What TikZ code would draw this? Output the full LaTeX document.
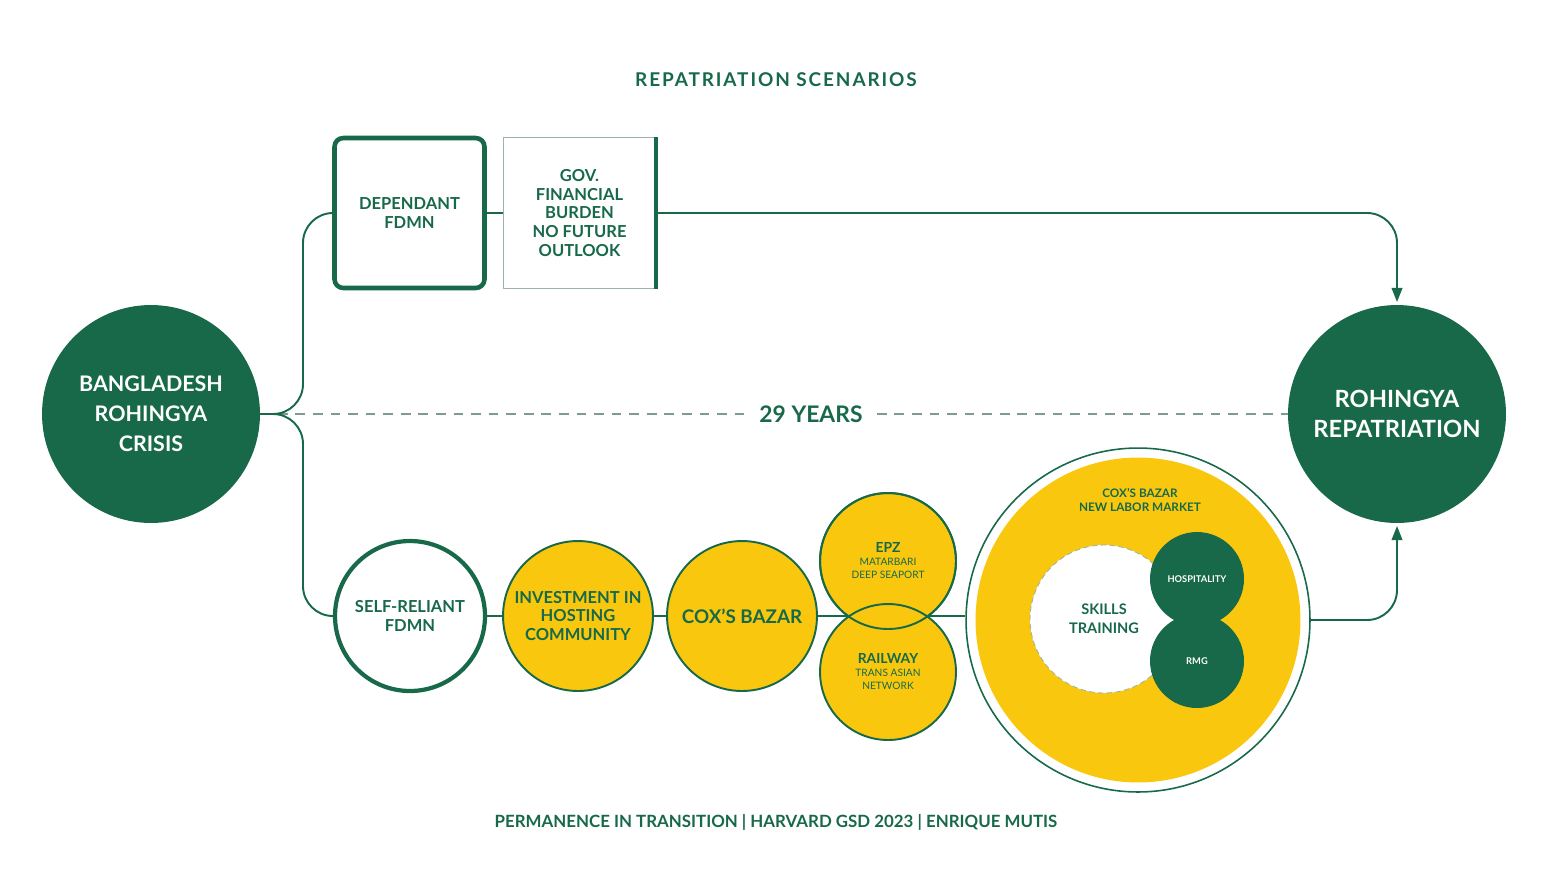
\documentclass[tikz,border=0pt]{standalone}
\usepackage{fontspec}
\setmainfont{Lato}
\newfontfamily\spacedfont[LetterSpace=10]{Lato}
\usepackage{tikz}
\usetikzlibrary{arrows.meta, positioning, backgrounds}
\definecolor{rgreen}{HTML}{17694A}
\definecolor{ryellow}{HTML}{F9C80E}
\definecolor{rthin}{HTML}{9DB3A8}
\definecolor{rdash}{HTML}{7E9C8E}

\begin{document}
\begin{tikzpicture}[x=0.02cm, y=-0.02cm,
    bigdot/.style={circle, fill=rgreen, text=white, minimum size=4.36cm, inner sep=0pt, align=center, font=\bfseries\fontsize{12.2}{17}\selectfont},
    depbox/.style={draw=rgreen, line width=2.6pt, rounded corners=5pt, fill=white, minimum width=3.0cm, minimum height=3.0cm, align=center, text=rgreen, font=\bfseries\fontsize{9.4}{11.3}\selectfont},
    govbox/.style={draw=rthin, line width=0.6pt, fill=white, minimum width=3.04cm, minimum height=3.02cm, align=center, text=rgreen, font=\bfseries\fontsize{9.4}{10.8}\selectfont},
    selfdot/.style={circle, draw=rgreen, line width=2.4pt, fill=white, minimum size=3.0cm, inner sep=0pt, align=center, text=rgreen, font=\bfseries\fontsize{9.4}{11.3}\selectfont},
    ydot/.style={circle, draw=rgreen, line width=1.1pt, fill=ryellow, minimum size=3.0cm, inner sep=0pt, align=center, text=rgreen, font=\bfseries\fontsize{9.4}{10.8}\selectfont},
    smalldot/.style={circle, draw=rgreen, line width=1.1pt, fill=ryellow, minimum size=2.72cm, inner sep=0pt, align=center, text=rgreen, font=\fontsize{5.8}{7.4}\selectfont},
    smallring/.style={circle, draw=rgreen, line width=1.1pt, minimum size=2.72cm, inner sep=0pt},
    ring/.style={circle, draw=rgreen, line width=0.9pt, fill=white, minimum size=6.88cm, inner sep=0pt},
    ringfill/.style={circle, fill=ryellow, minimum size=6.5cm, inner sep=0pt},
    skilldot/.style={circle, draw=rthin, densely dashed, line width=0.5pt, fill=white, minimum size=2.96cm, inner sep=0pt, align=center, text=rgreen, font=\bfseries\fontsize{8.3}{10.8}\selectfont},
    gdot/.style={circle, fill=rgreen, minimum size=1.88cm, inner sep=0pt, text=white, font=\bfseries\fontsize{5.3}{6.5}\selectfont},
    flow/.style={draw=rgreen, line width=1.1pt, rounded corners=0.6cm},
    tip/.style={-{Triangle[length=8pt, width=6pt]}, shorten >=1.5pt},
    dashline/.style={draw=rdash, line width=0.9pt, dash pattern=on 5.5pt off 4.5pt},
    heading/.style={text=rgreen, font=\spacedfont\bfseries\fontsize{10.8}{12}\selectfont}
]
\useasboundingbox (0,0) rectangle (1551,873);

% titles
\node[heading] (title) at (776,80) {REPATRIATION SCENARIOS};
\node[heading, font=\bfseries\fontsize{9.6}{12}\selectfont] (foot) at (776,822) {PERMANENCE IN TRANSITION | HARVARD GSD 2023 | ENRIQUE MUTIS};

% start and end
\node[bigdot] (bd) at (151,414) {BANGLADESH\\ROHINGYA\\CRISIS};
\node[bigdot, font=\bfseries\fontsize{13.5}{17}\selectfont] (rr) at (1397,414) {ROHINGYA\\REPATRIATION};
\node[text=rgreen, inner sep=0.28cm, font=\bfseries\fontsize{13}{14}\selectfont] (yrs) at (811,414) {29 YEARS};
\coordinate (split) at (303,414);

% upper scenario
\node[depbox] (dep) at (409.5,213) {DEPENDANT\\FDMN};
\node[govbox] (gov) at (579.5,213) {GOV.\\FINANCIAL\\BURDEN\\NO FUTURE\\OUTLOOK};
\draw[rgreen, line width=2.4pt] (gov.north east) -- (gov.south east);

% lower scenario
\node[selfdot] (self) at (410,616) {SELF-RELIANT\\FDMN};
\node[ydot] (inv) at (578,616) {INVESTMENT IN\\HOSTING\\COMMUNITY};
\node[ydot, font=\bfseries\fontsize{10.7}{12}\selectfont] (cox) at (742,616) {COX’S BAZAR};
\node[smalldot] (epz) at (888,561) {{\bfseries\fontsize{7.9}{9.5}\selectfont EPZ}\\MATARBARI\\DEEP SEAPORT};
\node[smalldot] (rail) at (888,672) {{\bfseries\fontsize{7.9}{9.5}\selectfont RAILWAY}\\TRANS ASIAN\\NETWORK};
\node[smallring] (epzring) at (epz.center) {};

\node[ring] (lab) at (1138,620) {};
\node[ringfill] (labin) at (lab.center) {};
\node[text=rgreen, align=center, font=\bfseries\fontsize{6.7}{8}\selectfont] (labtxt) at (1140,500) {COX’S BAZAR\\NEW LABOR MARKET};
\node[skilldot] (skill) at (1104,619) {SKILLS\\TRAINING};
\node[gdot] (hosp) at (1197,579) {HOSPITALITY};
\node[gdot] (rmg) at (1197,661) {RMG};

% connectors
\begin{scope}[on background layer]
\draw[dashline] (bd.east) -- (yrs.west);
\draw[dashline] (yrs.east) -- (rr.west);
\draw[flow] (bd.east) -- (split) |- (dep.west);
\draw[flow] (bd.east) -- (split) |- (self.west);
\draw[flow] (dep.east) -- (gov.west);
\draw[flow, tip] (gov.east) -| (rr.north);
\draw[flow] (self.east) -- (inv.west);
\draw[flow] (inv.east) -- (cox.west);
\draw[flow] (cox.east) -- (cox.east -| lab.west);
\draw[flow, tip] (lab.east) -| (rr.south);
\end{scope}
\end{tikzpicture}
\end{document}
